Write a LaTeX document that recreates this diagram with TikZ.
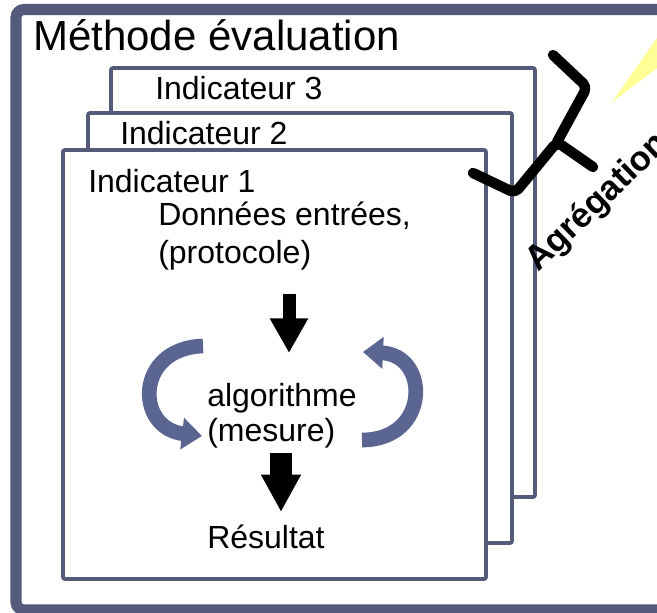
\documentclass[tikz,border=0pt]{standalone}
\usepackage{fontspec}
\setmainfont{Liberation Sans}
\usetikzlibrary{arrows.meta,positioning}
\definecolor{framegray}{RGB}{83,90,122}
\definecolor{loopblue}{RGB}{90,101,146}
\definecolor{beamyellow}{RGB}{255,255,150}

\begin{document}
\begin{tikzpicture}[x=0.75pt,y=-0.75pt,
  indbox/.style={draw=framegray, line width=2.8pt, fill=white, rounded corners=1.5pt},
  txt/.style={font=\fontsize{24}{28}\selectfont, anchor=base west, inner sep=0pt},
  loop/.style={draw=loopblue, line width=11pt, -{Triangle[length=15pt,width=23pt]}},
  brace/.style={line width=7.8pt, line cap=round, line join=round, rounded corners=4pt}]
\useasboundingbox (0,0) rectangle (657,613);
\clip (0,0) rectangle (657,613);

% Outer frame
\draw[draw=framegray, line width=8.3pt, rounded corners=6pt] (16,9.5) rectangle (720,610);
\node[txt, font=\fontsize{31.5}{36}\selectfont] (titre) at (33,51) {Méthode évaluation};

% Indicator sheets
\draw[indbox] (111,68) rectangle (535,497);
\node[txt] (ind3) at (155,100) {Indicateur 3};
\draw[indbox] (88,113) rectangle (512,543);
\node[txt] (ind2) at (120,145) {Indicateur 2};
\draw[indbox] (63,150) rectangle (486,579);
\node[txt] (ind1) at (88,193) {Indicateur 1};

% Contents of sheet 1
\node[txt] (donnees) at (158,226) {Données entrées,};
\node[txt] (protocole) at (158,263) {(protocole)};
\node[txt] (algo) at (207,406) {algorithme};
\node[txt] (mesure) at (207,441) {(mesure)};
\node[txt] (resultat) at (207,548) {Résultat};

% Block arrows
\coordinate (a1s) at (289,294);
\coordinate (a1e) at (289,353);
\draw[line width=9.75pt, -{Triangle[length=26pt,width=27pt]}] (a1s) -- (a1e);
\coordinate (a2s) at (281,453);
\coordinate (a2e) at (281,512);
\draw[line width=16pt, -{Triangle[length=28pt,width=28pt]}] (a2s) -- (a2e);

% Loop arrows
\draw[loop] (203,346) .. controls (135,348) and (135,428) .. (202,436);
\draw[loop] (362,440) .. controls (430,440) and (430,355) .. (363,352);

% Aggregation
\fill[beamyellow] (612,102) -- (660,34) -- (660,66) -- cycle;
\draw[brace] (473,173) -- (515,193) -- (557,142) -- (593,167);
\draw[brace] (557,142) -- (587,87) -- (553,55);
\node[txt, font=\bfseries\fontsize{26}{30}\selectfont, rotate=44] (agreg) at (538,273) {Agrégation};
\end{tikzpicture}
\end{document}
